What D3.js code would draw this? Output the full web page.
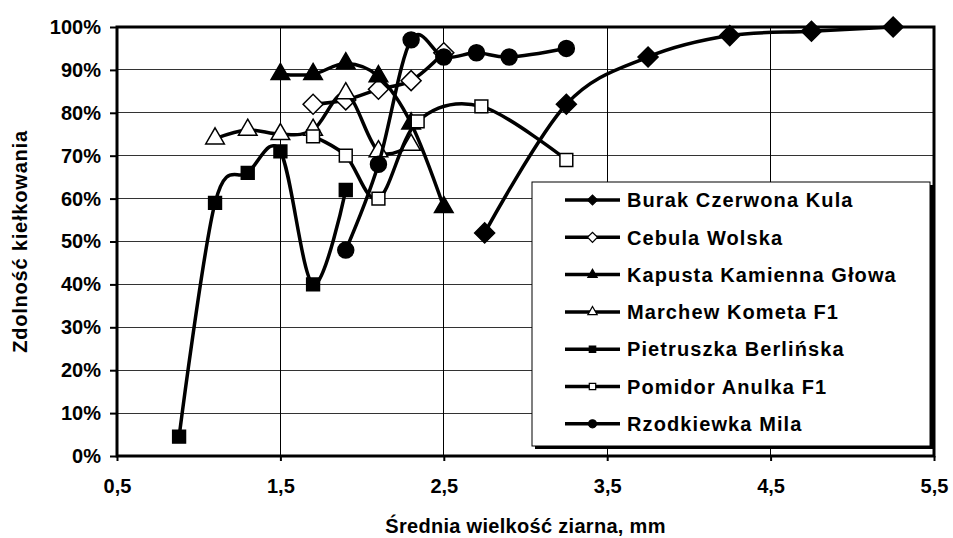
<!DOCTYPE html>
<html>
<head>
<meta charset="utf-8">
<script src="https://cdn.jsdelivr.net/npm/d3@7"></script>
<style>
  body { margin: 0; background: #fff; }
  svg text { font-family: "Liberation Sans", Arial, sans-serif; font-weight: bold; fill: #000; }
</style>
</head>
<body>
<svg id="chart" width="953" height="538"></svg>
<script>
// values (x = mean seed size, mm; y = germination, %)
const seriesNames = [
  'Burak Czerwona Kula',
  'Cebula Wolska',
  'Kapusta Kamienna Głowa',
  'Marchew Kometa F1',
  'Pietruszka Berlińska',
  'Pomidor Anulka F1',
  'Rzodkiewka Mila'
];
const burakX = [2.75, 3.25, 3.75, 4.25, 4.75, 5.25];
const burakY = [52, 82, 93, 98, 99, 100];
const cebulaX = [1.7, 1.9, 2.1, 2.3, 2.5];
const cebulaY = [82, 83, 85.5, 87.5, 94];
const kapustaX = [1.5, 1.7, 1.9, 2.1, 2.3, 2.5];
const kapustaY = [89, 89, 91.5, 88.5, 77.5, 58];
const marchewX = [1.1, 1.3, 1.5, 1.7, 1.9, 2.1, 2.3];
const marchewY = [74, 76, 75, 76, 84.5, 71, 72.5];
const pietruszkaX = [0.88, 1.1, 1.3, 1.5, 1.7, 1.9];
const pietruszkaY = [4.5, 59, 66, 71, 40, 62];
const pomidorX = [1.7, 1.9, 2.1, 2.34, 2.73, 3.25];
const pomidorY = [74.5, 70, 60, 78, 81.5, 69];
const rzodkiewkaX = [1.9, 2.1, 2.3, 2.5, 2.7, 2.9, 3.25];
const rzodkiewkaY = [48, 68, 97, 93, 94, 93, 95];

const xTicks = [0.5, 1.5, 2.5, 3.5, 4.5, 5.5];
const yTicks = [0, 10, 20, 30, 40, 50, 60, 70, 80, 90, 100];
const xTitle = 'Średnia wielkość ziarna, mm';
const yTitle = 'Zdolność kiełkowania';

const zip = (xs, ys) => xs.map((x, i) => ({ x: x, y: ys[i] }));
const series = [
  { name: seriesNames[0], pts: zip(burakX, burakY), shape: 'diamond', fill: '#000' },
  { name: seriesNames[1], pts: zip(cebulaX, cebulaY), shape: 'diamond', fill: '#fff' },
  { name: seriesNames[2], pts: zip(kapustaX, kapustaY), shape: 'triangle', fill: '#000' },
  { name: seriesNames[3], pts: zip(marchewX, marchewY), shape: 'triangle', fill: '#fff' },
  { name: seriesNames[4], pts: zip(pietruszkaX, pietruszkaY), shape: 'square', fill: '#000' },
  { name: seriesNames[5], pts: zip(pomidorX, pomidorY), shape: 'square', fill: '#fff' },
  { name: seriesNames[6], pts: zip(rzodkiewkaX, rzodkiewkaY), shape: 'circle', fill: '#000' }
];

const svg = d3.select('#chart');
const plot = { left: 117, top: 27, right: 934, bottom: 456 };

const x = d3.scaleLinear().domain([0.5, 5.5]).range([plot.left, plot.right]);
const y = d3.scaleLinear().domain([0, 100]).range([plot.bottom, plot.top]);

const commaFmt = d3.formatLocale({ decimal: ',', thousands: ' ', grouping: [3], currency: ['', ''] }).format('.1f');

// gridlines
const grid = svg.append('g').attr('shape-rendering', 'crispEdges');
grid.selectAll('line.h').data(yTicks.slice(1, -1)).join('line')
  .attr('class', 'h')
  .attr('x1', plot.left).attr('x2', plot.right)
  .attr('y1', (d) => y(d)).attr('y2', (d) => y(d))
  .attr('stroke', '#333').attr('stroke-width', 1);
grid.selectAll('line.v').data(xTicks.slice(1, -1)).join('line')
  .attr('class', 'v')
  .attr('y1', plot.top).attr('y2', plot.bottom)
  .attr('x1', (d) => x(d)).attr('x2', (d) => x(d))
  .attr('stroke', '#000').attr('stroke-width', 1);

// axes
const yAxis = svg.append('g')
  .attr('transform', `translate(${plot.left},0)`)
  .call(d3.axisLeft(y).tickValues(yTicks).tickSize(7).tickPadding(9).tickFormat((d) => d + '%'));
const xAxis = svg.append('g')
  .attr('transform', `translate(0,${plot.bottom})`)
  .call(d3.axisBottom(x).tickValues(xTicks).tickSize(5).tickPadding(18).tickFormat(commaFmt));
[yAxis, xAxis].forEach((ax) => {
  ax.select('.domain').remove();
  ax.selectAll('.tick line').attr('stroke', '#000').attr('stroke-width', 2);
  ax.selectAll('text').attr('font-size', 20).attr('font-family', null).attr('fill', '#000');
});

// plot frame
svg.append('rect')
  .attr('x', plot.left).attr('y', plot.top)
  .attr('width', plot.right - plot.left).attr('height', plot.bottom - plot.top)
  .attr('fill', 'none').attr('stroke', '#000').attr('stroke-width', 3);

// axis titles
svg.append('text')
  .attr('x', (plot.left + plot.right) / 2).attr('y', 533)
  .attr('text-anchor', 'middle').attr('font-size', 20).attr('letter-spacing', 0.3)
  .text(xTitle);
svg.append('text')
  .attr('transform', `translate(27,${(plot.top + plot.bottom) / 2}) rotate(-90)`)
  .attr('text-anchor', 'middle').attr('font-size', 20).attr('letter-spacing', 0.8)
  .text(yTitle);

function markerPath(shape, scale) {
  const k = scale || 1;
  if (shape === 'diamond') return d3.symbol(d3.symbolSquare, 200 * k * k)();
  if (shape === 'triangle') return d3.symbol(d3.symbolTriangle, 150 * k * k)();
  if (shape === 'square') return d3.symbol(d3.symbolSquare, 165 * k * k)();
  return d3.symbol(d3.symbolCircle, 200 * k * k)();
}

const line = d3.line()
  .x((d) => x(d.x))
  .y((d) => y(d.y))
  .curve(d3.curveCardinal.tension(0));

series.forEach((s) => {
  const g = svg.append('g');
  g.append('path')
    .attr('d', line(s.pts))
    .attr('fill', 'none').attr('stroke', '#000').attr('stroke-width', 3.5)
    .attr('stroke-linejoin', 'round');
  g.selectAll('path.m').data(s.pts).join('path')
    .attr('class', 'm')
    .attr('d', markerPath(s.shape))
    .attr('transform', (d) => `translate(${x(d.x)},${y(d.y)})` + (s.shape === 'diamond' ? ' rotate(45)' : ''))
    .attr('fill', s.fill).attr('stroke', '#000').attr('stroke-width', 1.5);
});

// legend
const legend = svg.append('g').attr('transform', 'translate(532,182)');
legend.append('rect').attr('x', 3).attr('y', 3).attr('width', 398).attr('height', 264).attr('fill', '#000');
legend.append('rect').attr('x', 0).attr('y', 0).attr('width', 398).attr('height', 264)
  .attr('fill', '#fff').attr('stroke', '#000').attr('stroke-width', 1);
const items = legend.selectAll('g.item').data(series).join('g')
  .attr('class', 'item')
  .attr('transform', (d, i) => `translate(0,${18 + i * 37.3})`);
items.append('line').attr('x1', 33).attr('x2', 88).attr('stroke', '#000').attr('stroke-width', 3.5);
items.append('path')
  .attr('d', (d) => markerPath(d.shape, 0.5))
  .attr('transform', (d) => 'translate(60.5,0)' + (d.shape === 'diamond' ? ' rotate(45)' : ''))
  .attr('fill', (d) => d.fill).attr('stroke', '#000').attr('stroke-width', 1.2);
items.append('text')
  .attr('x', 95).attr('dy', '0.36em')
  .attr('font-size', 20).attr('letter-spacing', 1.1)
  .text((d) => d.name);
</script>
</body>
</html>
